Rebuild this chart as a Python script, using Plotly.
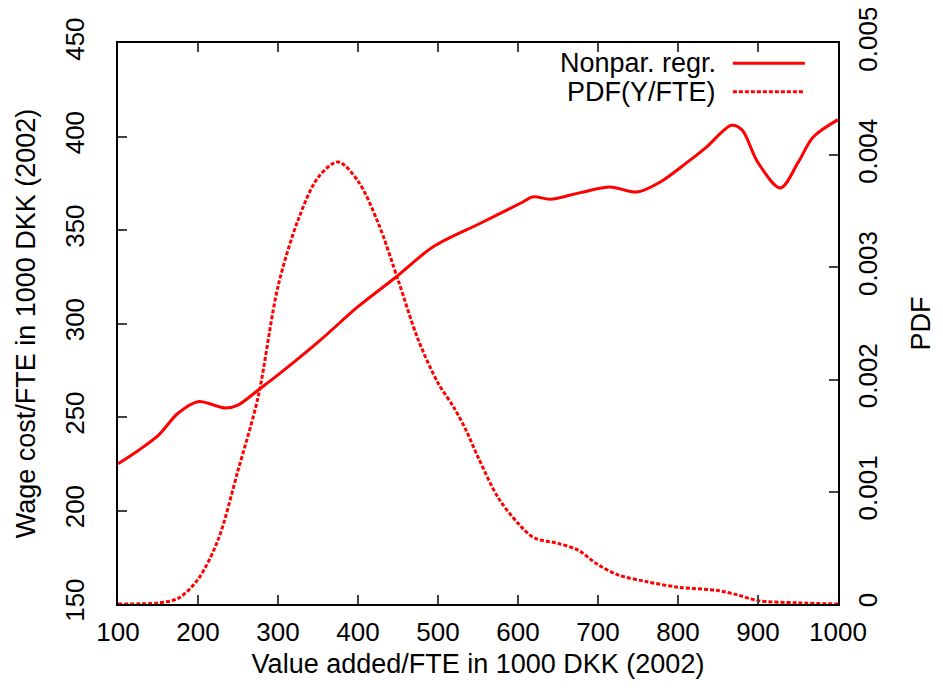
import plotly.graph_objects as go

# Nonparametric regression: wage cost/FTE vs value added/FTE
reg_x = [100, 125, 150, 175, 200, 234, 250, 277, 300, 350, 400, 448, 494, 553,
         603, 619, 640, 678, 715, 749, 778, 811, 836, 867, 880, 900, 928, 950, 969, 1000]
reg_y = [225, 232, 240, 252, 258.2, 254.8, 256.4, 265, 272.5, 290, 309, 325, 341, 353.6,
         364.3, 367.8, 366.4, 370, 373, 370.3, 375.7, 386, 394.5, 406, 403.5, 386, 372.5, 386, 399.7, 409]

# PDF of Y/FTE
pdf_x = [100, 150, 175, 200, 225, 250, 275, 300, 325, 350, 375, 400, 425, 450, 475, 500,
         520, 535, 550, 575, 600, 620, 650, 675, 700, 725, 760, 800, 850, 875, 900, 950, 1000]
pdf_y = [0, 0.00001, 0.00005, 0.00022, 0.00057, 0.00119, 0.00184, 0.00283, 0.00342, 0.0038,
         0.00394, 0.00377, 0.0034, 0.00289, 0.00236, 0.00197, 0.00175, 0.00155, 0.00131,
         0.00095, 0.00072, 0.00059, 0.00054, 0.00048, 0.00035, 0.00026, 0.0002, 0.00015,
         0.00012, 0.00008, 0.00003, 0.00001, 0]

# Tick values / labels
x_ticks = [100, 200, 300, 400, 500, 600, 700, 800, 900, 1000]
y_ticks = [150, 200, 250, 300, 350, 400, 450]
y2_ticks = [0, 0.001, 0.002, 0.003, 0.004, 0.005]
y2_labels = ["0", "0.001", "0.002", "0.003", "0.004", "0.005"]

legend_names = ["Nonpar. regr.", "PDF(Y/FTE)"]

FONT = "Liberation Sans, Arial, sans-serif"
FS = 26
FT = 27
RED = "#ff0000"

fig = go.Figure()
fig.add_trace(go.Scatter(x=reg_x, y=reg_y, mode="lines", name=legend_names[0],
                         line=dict(color=RED, width=3, shape="spline", smoothing=0.9),
                         yaxis="y", showlegend=False))
fig.add_trace(go.Scatter(x=pdf_x, y=pdf_y, mode="lines", name=legend_names[1],
                         line=dict(color=RED, width=3, shape="spline", smoothing=0.9, dash="4px,2px"),
                         yaxis="y2", showlegend=False))

axis_common = dict(showline=True, linecolor="black", linewidth=2, ticks="inside",
                   ticklen=9, tickwidth=1.5, tickcolor="#444", showgrid=False, zeroline=False,
                   automargin=False, ticklabeloverflow="allow",
                   tickfont=dict(family=FONT, size=FS, color="black"))

fig.update_layout(
    width=943, height=688,
    margin=dict(l=110, r=113, t=35, b=92),
    paper_bgcolor="white", plot_bgcolor="white",
    font=dict(family=FONT, size=FS, color="black"),
    xaxis=dict(range=[100, 1000], tickvals=x_ticks, mirror="ticks",
               ticklabelstandoff=4,
               title=dict(text="Value added/FTE in 1000 DKK (2002)", standoff=8,
                          font=dict(family=FONT, size=FT)),
               **axis_common),
    yaxis=dict(range=[150, 450], tickvals=y_ticks, tickangle=-90,
               ticklabelstandoff=22,
               title=dict(text="Wage cost/FTE in 1000 DKK (2002)", standoff=16,
                          font=dict(family=FONT, size=FT)),
               **axis_common),
    yaxis2=dict(range=[0, 0.005], tickvals=y2_ticks, ticktext=y2_labels, tickangle=-90,
                overlaying="y", side="right", ticklabelstandoff=6,
                **axis_common),
)

# Right axis title placed as a rotated annotation
fig.add_annotation(xref="paper", yref="paper", x=1.114, y=0.5, text="PDF", textangle=-90,
                   showarrow=False, xanchor="center", yanchor="middle",
                   font=dict(family=FONT, size=FT, color="black"))

# Legend (gnuplot style: text on the left, sample on the right)
leg_rows = [(0.964, "solid"), (0.913, "dot")]
for name, (yy, dash) in zip(legend_names, leg_rows):
    fig.add_annotation(xref="paper", yref="paper", x=0.834, y=yy, text=name,
                       showarrow=False, xanchor="right", yanchor="middle",
                       font=dict(family=FONT, size=FT, color="black"))
    fig.add_shape(type="line", xref="paper", yref="paper", x0=0.854, x1=0.954, y0=yy, y1=yy,
                  line=dict(color=RED, width=3, dash="solid" if dash == "solid" else "4px,2px"))

fig.write_html("out.html")
